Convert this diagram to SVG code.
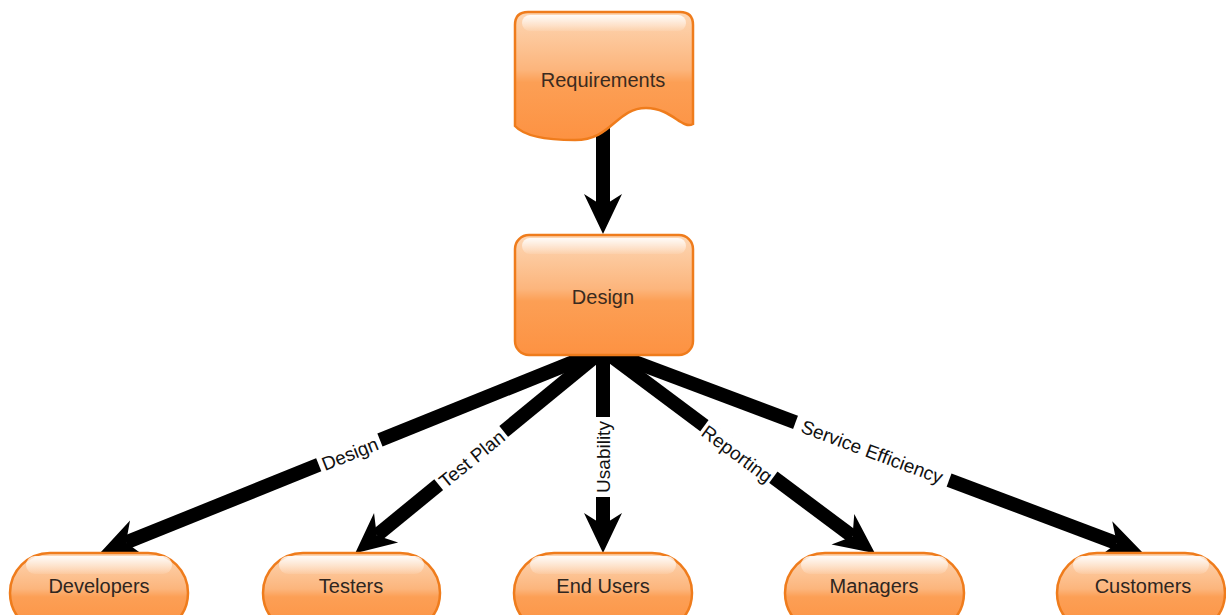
<svg xmlns="http://www.w3.org/2000/svg" width="1226" height="615" viewBox="0 0 1226 615">
<style>
.node{stroke:#ef7c1c;stroke-width:2.5;fill:url(#og)}
.gloss{fill:url(#gl)}
.nt{font-family:"Liberation Sans",Arial,sans-serif;font-size:20px;fill:#3a2b20;text-anchor:middle;dominant-baseline:central}
.pt{font-family:"Liberation Sans",Arial,sans-serif;font-size:20px;fill:#2f2620;text-anchor:middle;dominant-baseline:central}
.edge{stroke:#000;stroke-width:14;fill:none;stroke-linecap:butt}
.lbg{fill:#fff}
.lt{font-family:"Liberation Sans",Arial,sans-serif;font-size:19px;fill:#111;text-anchor:middle;dominant-baseline:central}
</style>
<defs>
<linearGradient id="og" x1="0" y1="0" x2="0" y2="1">
<stop offset="0" stop-color="#fdd7b5"/>
<stop offset="0.45" stop-color="#fcb57c"/>
<stop offset="0.55" stop-color="#fc9f55"/>
<stop offset="1" stop-color="#fd9242"/>
</linearGradient>
<linearGradient id="gl" x1="0" y1="0" x2="0" y2="1">
<stop offset="0" stop-color="#fff" stop-opacity="0.9"/>
<stop offset="1" stop-color="#fff" stop-opacity="0.1"/>
</linearGradient>
<marker id="ah" markerUnits="userSpaceOnUse" markerWidth="42" markerHeight="42" refX="12" refY="20" orient="auto" viewBox="0 0 42 42" overflow="visible">
<path d="M40,20 L0,1 L12,20 L0,39 Z" fill="#000"/>
</marker>
</defs>

<g id="connectors">
<line class="edge" x1="603" y1="127" x2="603" y2="206" marker-end="url(#ah)" stroke-linecap="round"/>
<line class="edge" x1="603" y1="350" x2="126" y2="542.6" marker-end="url(#ah)"/>
<line class="edge" x1="603" y1="350" x2="376.8" y2="535.4" marker-end="url(#ah)"/>
<line class="edge" x1="603" y1="350" x2="603" y2="525" marker-end="url(#ah)"/>
<line class="edge" x1="603" y1="350" x2="852.5" y2="536.4" marker-end="url(#ah)"/>
<line class="edge" x1="603" y1="350" x2="1116.8" y2="543.2" marker-end="url(#ah)"/>
<g transform="translate(350,454) rotate(-21.8)"><rect class="lbg" x="-33" y="-11" width="66" height="22"/><text class="lt" x="0" y="0">Design</text></g>
<g transform="translate(472,459) rotate(-39)"><rect class="lbg" x="-42" y="-11" width="84" height="22"/><text class="lt" x="0" y="0">Test Plan</text></g>
<g transform="translate(603,457) rotate(-90)"><rect class="lbg" x="-40" y="-11" width="80" height="22"/><text class="lt" x="0" y="0">Usability</text></g>
<g transform="translate(737,454) rotate(36.5)"><rect class="lbg" x="-43" y="-11" width="86" height="22"/><text class="lt" x="0" y="0">Reporting</text></g>
<g transform="translate(872,452) rotate(20.4)"><rect class="lbg" x="-82" y="-11" width="164" height="22"/><text class="lt" x="0" y="0">Service Efficiency</text></g>
</g>

<g id="requirements">
<path class="node" d="M515,25 Q515,12 528,12 H680 Q693,12 693,25 V124 C682,130 672,108 646,108 C616,108 612,140 575,140 C548,140 524,136 515,126 Z"/>
<rect class="gloss" x="522" y="15" width="164" height="16" rx="8"/>
<text class="nt" x="603" y="80">Requirements</text>
</g>

<g id="design">
<rect class="node" x="515" y="235" width="178" height="120" rx="14"/>
<rect class="gloss" x="522" y="238" width="164" height="16" rx="8"/>
<text class="nt" x="603" y="297">Design</text>
</g>

<g id="developers">
<rect class="node" x="10" y="553" width="178" height="80" rx="40"/>
<rect class="gloss" x="26" y="556" width="146" height="18" rx="9"/>
<text class="pt" x="99" y="586">Developers</text>
</g>
<g id="testers">
<rect class="node" x="263" y="553" width="177" height="80" rx="40"/>
<rect class="gloss" x="279" y="556" width="145" height="18" rx="9"/>
<text class="pt" x="351" y="586">Testers</text>
</g>
<g id="endusers">
<rect class="node" x="514" y="553" width="178" height="80" rx="40"/>
<rect class="gloss" x="530" y="556" width="146" height="18" rx="9"/>
<text class="pt" x="603" y="586">End Users</text>
</g>
<g id="managers">
<rect class="node" x="785" y="553" width="179" height="80" rx="40"/>
<rect class="gloss" x="801" y="556" width="147" height="18" rx="9"/>
<text class="pt" x="874" y="586">Managers</text>
</g>
<g id="customers">
<rect class="node" x="1057" y="553" width="168" height="80" rx="40"/>
<rect class="gloss" x="1073" y="556" width="136" height="18" rx="9"/>
<text class="pt" x="1143" y="586">Customers</text>
</g>
</svg>
